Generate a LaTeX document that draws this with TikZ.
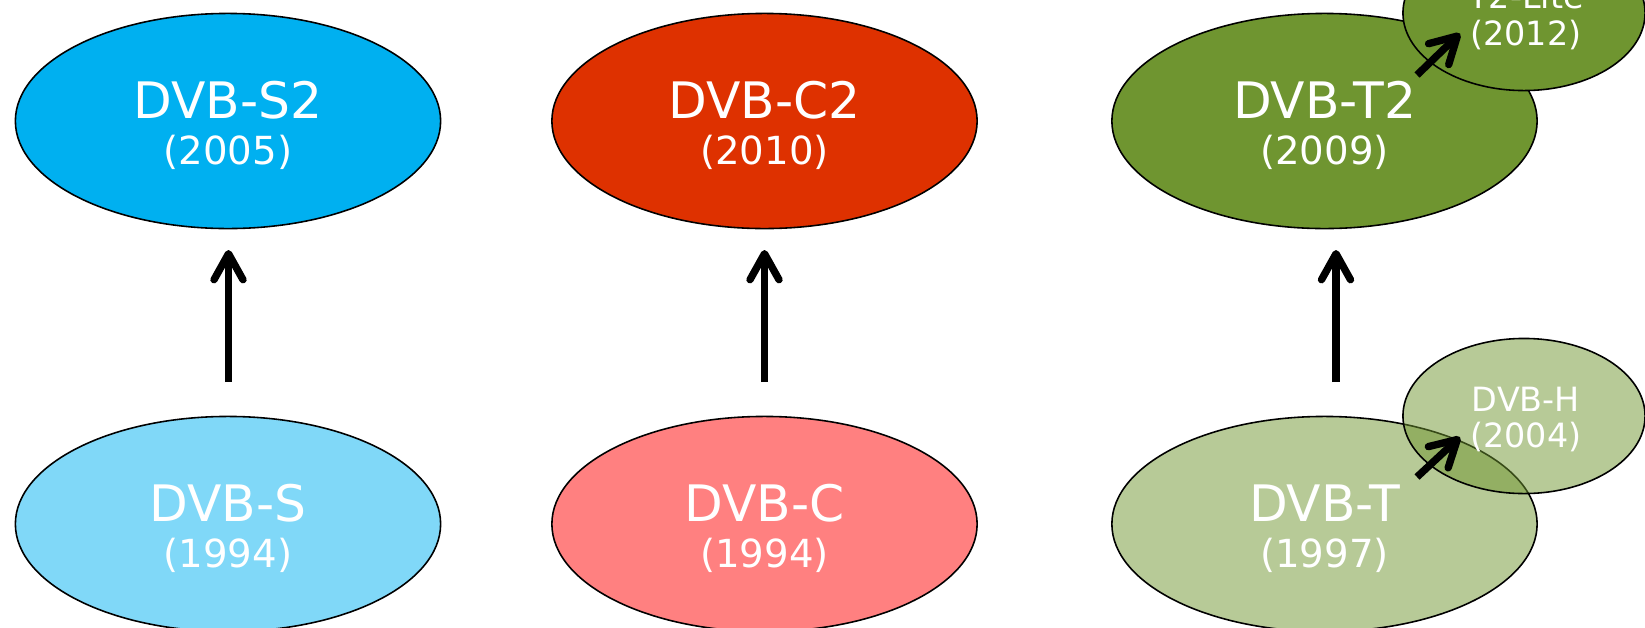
\documentclass[tikz,border=0pt]{standalone}
\usepackage{fontspec}
\setmainfont{DejaVu Sans}
\usetikzlibrary{shapes.geometric,arrows.meta}

\definecolor{s2blue}{HTML}{00B0F0}
\definecolor{sblue}{HTML}{80D8F8}
\definecolor{c2red}{HTML}{DE3100}
\definecolor{cred}{HTML}{FF8080}
\definecolor{tgreen}{HTML}{6F9530}

\begin{document}
\begin{tikzpicture}[x=0.01cm,y=-0.01cm,
  stdell/.style={ellipse,draw=black,line width=0.45pt,minimum width=4.25cm,
    minimum height=2.15cm,inner sep=0pt},
  subell/.style={ellipse,draw=black,line width=0.45pt,minimum width=2.42cm,
    minimum height=1.55cm,inner sep=0pt},
  bigname/.style={text=white,inner sep=0pt,font=\fontsize{14.3}{16}\selectfont},
  bigyear/.style={text=white,inner sep=0pt,font=\fontsize{11}{13}\selectfont},
  smalltxt/.style={text=white,inner sep=0pt,font=\fontsize{9.5}{11}\selectfont},
  evo/.style={line width=2.1pt,-{Straight Barb[length=2.6mm,width=2.9mm,round]}}]
\useasboundingbox (0,0) rectangle (1645,627);

% first generation (bottom row)
\node[stdell,fill=sblue] (s) at (228,524) {};
\node[stdell,fill=cred] (c) at (764.5,524) {};
\node[stdell,fill=tgreen,fill opacity=0.5] (t) at (1324.5,524) {};
\node[subell,fill=tgreen,fill opacity=0.5] (h) at (1524,416) {};

% second generation (top row)
\node[stdell,fill=s2blue] (s2) at (228,121) {};
\node[stdell,fill=c2red] (c2) at (764.5,121) {};
\node[stdell,fill=tgreen] (t2) at (1324.5,121) {};
\node[subell,fill=tgreen] (lite) at (1524,13) {};

% labels
\node[bigname] (s2name) at (228,100) {DVB-S2};
\node[bigyear] (s2year) at (228,152) {(2005)};
\node[bigname] (c2name) at (764.5,100) {DVB-C2};
\node[bigyear] (c2year) at (764.5,152) {(2010)};
\node[bigname] (t2name) at (1324.5,100) {DVB-T2};
\node[bigyear] (t2year) at (1324.5,152) {(2009)};
\node[smalltxt] (litename) at (1526,-3.5) {T2-Lite};
\node[smalltxt] (liteyear) at (1526,35) {(2012)};

\node[bigname] (sname) at (228,503) {DVB-S};
\node[bigyear] (syear) at (228,555) {(1994)};
\node[bigname] (cname) at (764.5,503) {DVB-C};
\node[bigyear] (cyear) at (764.5,555) {(1994)};
\node[bigname] (tname) at (1324.5,503) {DVB-T};
\node[bigyear] (tyear) at (1324.5,555) {(1997)};
\node[smalltxt] (hname) at (1526,399) {DVB-H};
\node[smalltxt] (hyear) at (1526,437.5) {(2004)};

% evolution arrows
\coordinate (s-up) at (228.5,382);
\coordinate (s2-low) at (228.5,250);
\coordinate (c-up) at (764.5,382);
\coordinate (c2-low) at (764.5,250);
\coordinate (t-up) at (1336,382);
\coordinate (t2-low) at (1336,250);
\coordinate (t2-out) at (1417,75);
\coordinate (lite-in) at (1460,33.5);
\coordinate (t-out) at (1417,477);
\coordinate (h-in) at (1460,437);

\draw[evo] (s-up) -- (s2-low);
\draw[evo] (c-up) -- (c2-low);
\draw[evo] (t-up) -- (t2-low);
\draw[evo] (t2-out) -- (lite-in);
\draw[evo] (t-out) -- (h-in);
\end{tikzpicture}
\end{document}
